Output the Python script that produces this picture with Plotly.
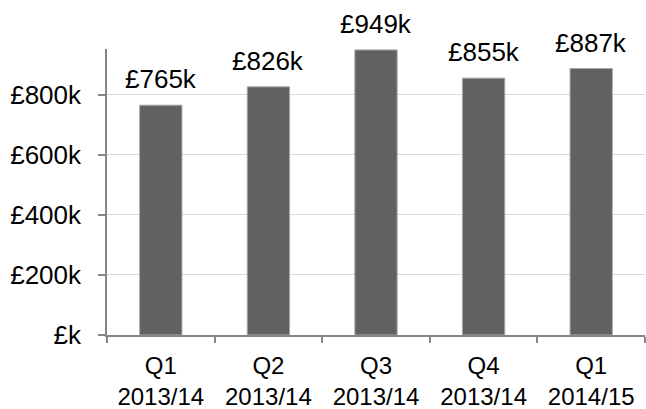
import plotly.graph_objects as go

categories = ["Q1<br>2013/14", "Q2<br>2013/14", "Q3<br>2013/14", "Q4<br>2013/14", "Q1<br>2014/15"]
values = [765000, 826000, 949000, 855000, 887000]
labels = ["£765k", "£826k", "£949k", "£855k", "£887k"]
tick_vals = [0, 200000, 400000, 600000, 800000]
tick_text = ["£k", "£200k", "£400k", "£600k", "£800k"]

font = dict(family="Liberation Sans, Arial, sans-serif", size=26, color="#000000")
xfont = dict(family="Liberation Sans, Arial, sans-serif", size=24, color="#000000")

fig = go.Figure()
fig.add_trace(go.Bar(
    x=categories, y=values,
    marker=dict(color="#616161", line=dict(color="#a6a6a6", width=1)),
    width=0.393,
))
for c, v, t in zip(categories, values, labels):
    fig.add_annotation(x=c, y=v, text=t, showarrow=False, yanchor="bottom",
                       yshift=9, font=font)

fig.update_layout(
    width=646, height=409,
    margin=dict(l=107, r=1, t=49, b=74),
    paper_bgcolor="white", plot_bgcolor="white",
    showlegend=False,
    font=font,
)
fig.update_xaxes(
    showline=True, linecolor="#868686", linewidth=1.5,
    ticks="outside", ticklen=6, tickcolor="#868686", tickwidth=1.5,
    tickson="boundaries", showgrid=False, tickfont=xfont,
    ticklabelstandoff=8, automargin=False,
)
fig.update_yaxes(
    range=[0, 952000], tickvals=tick_vals, ticktext=tick_text,
    showline=True, linecolor="#868686", linewidth=1.5,
    ticks="outside", ticklen=7, tickcolor="#868686", tickwidth=1.5,
    showgrid=True, gridcolor="#d9d9d9", gridwidth=1.3,
    zeroline=False, tickfont=font, ticklabelstandoff=12, automargin=False,
)
fig.write_html("out.html")
